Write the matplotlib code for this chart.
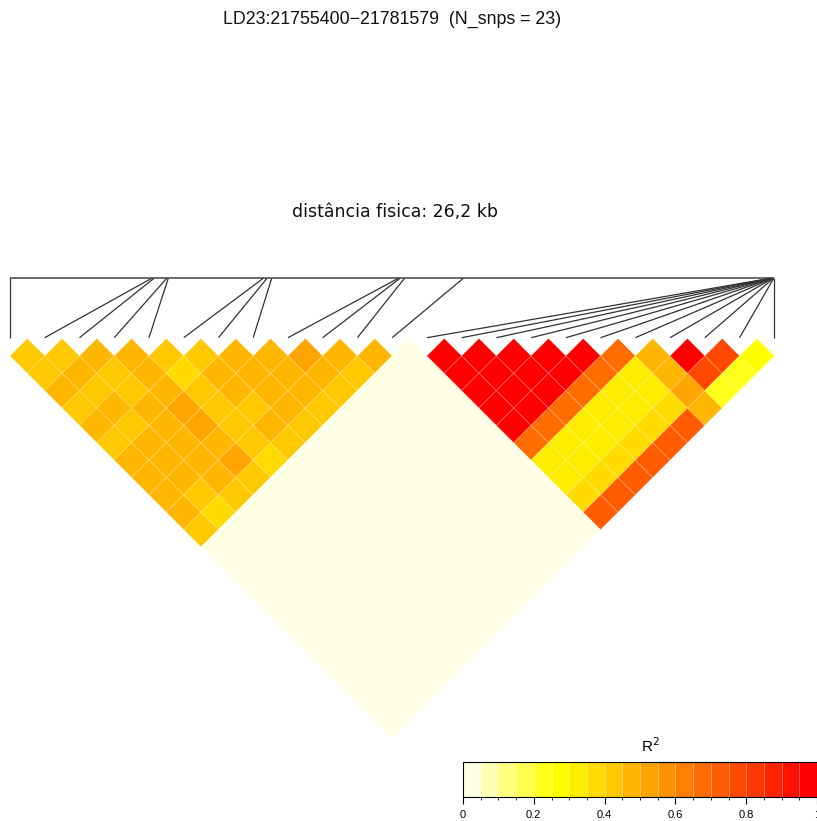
import numpy as np
import matplotlib
matplotlib.use("Agg")
import matplotlib.pyplot as plt
import matplotlib as mpl
from matplotlib.collections import PolyCollection, LineCollection
from matplotlib.colors import ListedColormap, BoundaryNorm, hsv_to_rgb

# ---------------------------------------------------------------- data
region_label = "LD23:21755400\u221221781579  (N_snps = 23)"
distance_label = "dist\u00e2ncia fisica: 26,2 kb"

# physical position (bp) of each SNP
snp_pos = [21755400, 21760253, 21760332, 21760767, 21760822, 21764076,
           21764203, 21764364, 21768700, 21768758, 21768912, 21770927,
           21781440, 21781455, 21781468, 21781480, 21781492, 21781505,
           21781518, 21781530, 21781545, 21781560, 21781579]

# R^2 inside block 1 (SNPs 1-12); row i = SNP i against SNPs i+1..12
block1_r2 = [
    [0.43, 0.42, 0.47, 0.43, 0.46, 0.42, 0.47, 0.48, 0.46, 0.47, 0.43],
    [0.43, 0.47, 0.42, 0.46, 0.43, 0.48, 0.47, 0.46, 0.43, 0.38],
    [0.47, 0.43, 0.42, 0.46, 0.47, 0.48, 0.47, 0.46, 0.43],
    [0.46, 0.47, 0.48, 0.52, 0.53, 0.47, 0.52, 0.42],
    [0.43, 0.38, 0.42, 0.43, 0.42, 0.43, 0.37],
    [0.42, 0.47, 0.46, 0.43, 0.47, 0.42],
    [0.47, 0.46, 0.48, 0.47, 0.43],
    [0.48, 0.46, 0.47, 0.42],
    [0.52, 0.47, 0.43],
    [0.46, 0.42],
    [0.47],
]

# R^2 inside block 2 (SNPs 13-23); row i = SNP 12+i against the following SNPs
block2_r2 = [
    [0.98, 0.97, 0.99, 0.98, 0.97, 0.67, 0.32, 0.31, 0.37, 0.72],
    [0.98, 0.97, 0.98, 0.99, 0.66, 0.33, 0.32, 0.38, 0.71],
    [0.99, 0.98, 0.97, 0.67, 0.32, 0.31, 0.37, 0.72],
    [0.98, 0.99, 0.68, 0.33, 0.32, 0.36, 0.71],
    [0.97, 0.66, 0.32, 0.33, 0.37, 0.72],
    [0.67, 0.31, 0.32, 0.38, 0.71],
    [0.47, 0.48, 0.52, 0.46],
    [0.96, 0.77, 0.22],
    [0.76, 0.23],
    [0.27],
]

# R^2 between any SNP of block 1 and any SNP of block 2
r2_between_blocks = 0.02

key_ticks = [0, 0.2, 0.4, 0.6, 0.8, 1]
key_ticklabels = ["0", "0.2", "0.4", "0.6", "0.8", "1"]

# ---------------------------------------------------------------- matrix
n = len(snp_pos)
n1 = len(block1_r2) + 1
r2 = np.full((n, n), np.nan)
for i, row in enumerate(block1_r2):
    for k, v in enumerate(row):
        r2[i, i + 1 + k] = v
for i, row in enumerate(block2_r2):
    for k, v in enumerate(row):
        r2[n1 + i, n1 + i + 1 + k] = v
r2[:n1, n1:] = r2_between_blocks

# reversed heat.colors(20)
def heat_colors(m):
    j = m // 4
    i = m - j
    cols = [hsv_to_rgb((h, 1, 1)) for h in np.linspace(0, 1 / 6, i)]
    cols += [hsv_to_rgb((1 / 6, s, 1)) for s in np.linspace(1 - 1 / (2 * j), 1 / (2 * j), j)]
    return cols

palette = heat_colors(20)[::-1]
cmap = ListedColormap(palette)
bounds = np.linspace(0, 1, 21)
norm = BoundaryNorm(bounds, cmap.N)

# ---------------------------------------------------------------- figure
W, H, DPI = 817, 821, 100
fig = plt.figure(figsize=(W / DPI, H / DPI), dpi=DPI)

unit = 34.74          # pixels between neighbouring SNPs
x0_px, y0_px = 10.0, 338.5
ax = fig.add_axes([0, 0, 1, 1])
ax.set_xlim(-x0_px / unit, (W - x0_px) / unit)
ax.set_ylim(-(H - y0_px) / unit, y0_px / unit)
ax.axis("off")

verts, vals = [], []
for i in range(n):
    for j in range(i + 1, n):
        cx, cy = (i + j) / 2, -(j - i) / 2
        verts.append([(cx - 0.5, cy), (cx, cy + 0.5), (cx + 0.5, cy), (cx, cy - 0.5)])
        vals.append(r2[i, j])
pc = PolyCollection(verts, array=np.array(vals), cmap=cmap, norm=norm,
                    edgecolors=(1, 1, 1, 0.25), linewidths=0.5)
ax.add_collection(pc)

# genetic map: horizontal axis of physical positions linked to each SNP
p = np.array(snp_pos, dtype=float)
map_x = (p - p[0]) / (p[-1] - p[0]) * (n - 1)
y_top = (y0_px - 278.3) / unit
y_bot = (y0_px - 337.7) / unit
ax.plot([map_x[0], map_x[-1]], [y_top, y_top], color="#444444", lw=1.1,
        solid_capstyle="butt")
segs = [[(map_x[k], y_top), (k, y_bot)] for k in range(n)]
ax.add_collection(LineCollection(segs, colors="#333333", linewidths=0.9))

# titles
fig.text(392.5 / W, 1 - 19 / H, region_label, ha="center", va="center",
         fontsize=12.8, family="Liberation Sans", color="#111111")
fig.text(394.5 / W, 1 - 212 / H, distance_label, ha="center", va="center",
         fontsize=12.5, family="DejaVu Sans", color="#111111")

# colour key
cax = fig.add_axes([463 / W, 1 - 797 / H, 354 / W, 35 / H])
cb = mpl.colorbar.ColorbarBase(cax, cmap=cmap, norm=norm,
                               orientation="horizontal", ticks=key_ticks,
                               drawedges=True)
cb.dividers.set_color((1, 1, 1, 0.5))
cb.dividers.set_linewidth(0.5)
cb.outline.set_edgecolor("black")
cb.outline.set_linewidth(0.8)
cax.set_xticks(key_ticks)
cax.set_xticklabels(key_ticklabels, family="Liberation Sans", fontsize=8)
cax.tick_params(axis="x", direction="out", length=5, width=0.8, pad=4.5)
fig.text(650 / W, 1 - 746 / H, "R$^{2}$", ha="center", va="center",
         fontsize=11, family="Liberation Sans")

fig.savefig("out.png", dpi=DPI)
